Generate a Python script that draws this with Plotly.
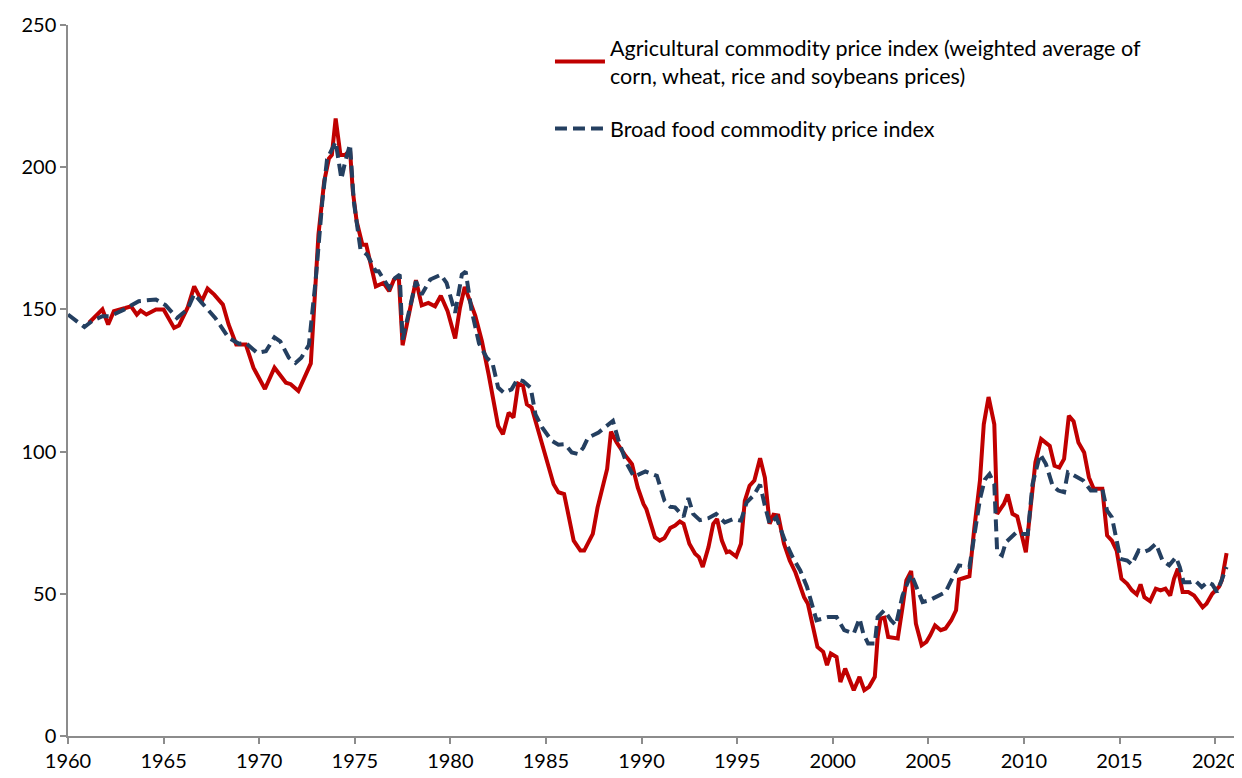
import plotly.graph_objects as go

# Agricultural commodity price index (weighted average of corn, wheat, rice, soybeans)
agri_year = [
    1961.1, 1961.8, 1962.1, 1962.4, 1963.0, 1963.3, 1963.6, 1963.8, 1964.1, 1964.6,
    1965.0, 1965.55, 1965.8, 1966.25, 1966.6, 1967.0, 1967.3, 1967.65, 1968.1, 1968.4,
    1968.8, 1969.3, 1969.7, 1970.3, 1970.8, 1971.4, 1971.65, 1972.05, 1972.7, 1973.1,
    1973.4, 1973.65, 1973.8, 1974.0, 1974.25, 1974.5, 1974.75, 1974.9, 1975.1, 1975.4,
    1975.6, 1975.8, 1976.1, 1976.5, 1976.8, 1977.05, 1977.3, 1977.5, 1977.8, 1978.2,
    1978.5, 1978.85, 1979.2, 1979.5, 1979.85, 1980.25, 1980.5, 1980.75, 1981.3, 1981.65,
    1982.0, 1982.5, 1982.75, 1983.05, 1983.3, 1983.55, 1983.8, 1984.0, 1984.25, 1984.8,
    1985.4, 1985.65, 1985.95, 1986.45, 1986.8, 1987.0, 1987.45, 1987.7, 1988.2, 1988.4,
    1988.7, 1989.1, 1989.5, 1989.8, 1990.1, 1990.25, 1990.7, 1990.95, 1991.2, 1991.5,
    1991.75, 1992.0, 1992.2, 1992.5, 1992.8, 1993.0, 1993.2, 1993.5, 1993.75, 1993.95,
    1994.2, 1994.45, 1994.6, 1994.95, 1995.2, 1995.4, 1995.65, 1995.9, 1996.2, 1996.45,
    1996.7, 1996.9, 1997.15, 1997.45, 1997.75, 1998.05, 1998.3, 1998.5, 1998.7, 1998.95,
    1999.2, 1999.5, 1999.7, 1999.9, 2000.2, 2000.4, 2000.65, 2001.1, 2001.4, 2001.65,
    2001.9, 2002.2, 2002.35, 2002.5, 2002.7, 2002.9, 2003.4, 2003.65, 2003.85, 2004.1,
    2004.35, 2004.65, 2004.9, 2005.1, 2005.35, 2005.65, 2005.9, 2006.2, 2006.45, 2006.6,
    2007.15, 2007.4, 2007.7, 2007.9, 2008.15, 2008.45, 2008.6, 2008.95, 2009.15, 2009.4,
    2009.65, 2010.1, 2010.35, 2010.6, 2010.9, 2011.35, 2011.6, 2011.85, 2012.1, 2012.35,
    2012.6, 2012.85, 2013.15, 2013.4, 2013.65, 2014.1, 2014.35, 2014.6, 2014.85, 2015.1,
    2015.4, 2015.65, 2015.9, 2016.1, 2016.3, 2016.6, 2016.9, 2017.15, 2017.4, 2017.65,
    2017.85, 2018.05, 2018.3, 2018.6, 2018.9, 2019.15, 2019.35, 2019.55, 2019.85, 2020.2,
    2020.35, 2020.6,
]
agri_value = [
    145.3, 150.0, 144.7, 149.4, 150.5, 151.1, 148.2, 149.6, 148.2, 150.0,
    150.0, 143.5, 144.3, 150.5, 158.1, 152.9, 157.3, 155.2, 151.7, 144.7,
    137.7, 137.7, 129.5, 122.0, 129.5, 124.2, 123.7, 121.3, 131.0, 176.3,
    195.0, 203.1, 204.3, 217.1, 204.3, 204.3, 206.0, 191.4, 180.9, 172.7,
    172.7, 166.9, 158.1, 159.3, 156.4, 160.5, 161.6, 137.4, 147.0, 160.3,
    151.4, 152.3, 151.1, 154.8, 149.5, 139.8, 150.5, 157.9, 147.8, 138.8,
    127.2, 109.0, 106.1, 113.7, 112.0, 123.9, 123.1, 116.6, 115.5, 102.0,
    88.5, 85.7, 85.1, 68.7, 65.2, 65.2, 71.1, 80.4, 93.9, 107.0,
    103.2, 99.1, 95.6, 87.4, 81.6, 79.8, 69.9, 68.7, 69.6, 73.1,
    74.0, 75.4, 74.6, 67.6, 64.1, 62.9, 59.4, 66.4, 74.6, 76.3,
    68.7, 64.6, 64.9, 63.1, 67.6, 82.7, 88.0, 89.8, 97.7, 90.9,
    74.6, 77.8, 77.5, 67.6, 61.7, 57.5, 52.4, 48.8, 46.5, 38.3,
    31.3, 29.6, 24.9, 29.0, 27.8, 19.0, 23.7, 16.1, 20.8, 16.1,
    17.3, 20.8, 34.8, 41.3, 41.6, 34.8, 34.3, 45.3, 54.7, 58.0,
    39.5, 31.9, 33.1, 35.4, 38.9, 37.2, 37.8, 40.7, 44.2, 55.0,
    56.2, 72.8, 89.8, 109.6, 119.2, 109.6, 78.1, 81.6, 84.9, 78.1,
    77.2, 64.6, 80.4, 96.2, 104.4, 102.0, 95.0, 94.4, 97.4, 112.6,
    110.6, 103.2, 99.7, 90.9, 86.9, 86.9, 70.5, 68.7, 65.2, 55.3,
    53.5, 51.2, 49.8, 53.3, 48.8, 47.4, 51.8, 51.2, 51.8, 49.4,
    55.3, 58.8, 50.6, 50.6, 49.4, 47.1, 45.3, 46.5, 50.0, 52.4,
    54.7, 64.3,
]

# Broad food commodity price index
food_year = [
    1960.0, 1960.86, 1961.3, 1961.8, 1962.2, 1962.95, 1963.7, 1964.6, 1965.1, 1965.7,
    1966.25, 1966.6, 1967.0, 1967.7, 1968.4, 1968.95, 1969.3, 1969.9, 1970.35, 1970.8,
    1971.1, 1971.55, 1971.9, 1972.2, 1972.6, 1972.95, 1973.3, 1973.55, 1974.0, 1974.3,
    1974.5, 1974.75, 1974.95, 1975.3, 1975.65, 1976.1, 1976.25, 1976.8, 1977.1, 1977.35,
    1977.5, 1978.2, 1978.5, 1978.95, 1979.5, 1979.8, 1980.25, 1980.6, 1980.8, 1981.1,
    1981.5, 1981.9, 1982.2, 1982.5, 1982.8, 1983.2, 1983.5, 1983.8, 1984.2, 1984.45,
    1984.8, 1985.3, 1985.65, 1986.0, 1986.35, 1986.7, 1986.95, 1987.2, 1987.75, 1988.5,
    1988.8, 1989.2, 1989.6, 1990.2, 1990.8, 1991.2, 1991.5, 1991.75, 1992.2, 1992.45,
    1992.7, 1993.05, 1993.5, 1993.9, 1994.35, 1994.8, 1995.2, 1995.5, 1995.85, 1996.2,
    1996.45, 1996.7, 1997.05, 1997.5, 1997.9, 1998.3, 1998.65, 1999.15, 1999.75, 2000.2,
    2000.6, 2001.1, 2001.4, 2001.6, 2001.85, 2002.2, 2002.35, 2002.7, 2003.05, 2003.3,
    2003.65, 2004.1, 2004.45, 2004.7, 2005.05, 2005.5, 2005.9, 2006.2, 2006.6, 2007.15,
    2007.4, 2007.7, 2007.95, 2008.2, 2008.45, 2008.6, 2008.85, 2009.05, 2009.6, 2009.95,
    2010.2, 2010.45, 2010.85, 2011.15, 2011.5, 2011.8, 2012.1, 2012.3, 2012.55, 2013.1,
    2013.5, 2013.85, 2014.1, 2014.35, 2014.6, 2014.85, 2015.05, 2015.4, 2015.65, 2016.0,
    2016.25, 2016.55, 2016.9, 2017.25, 2017.6, 2017.95, 2018.15, 2018.35, 2018.7, 2018.95,
    2019.3, 2019.6, 2019.85, 2020.1, 2020.35, 2020.6,
]
food_value = [
    148.2, 143.8, 146.1, 147.6, 147.6, 150.0, 152.9, 153.5, 151.5, 147.0,
    150.0, 155.4, 152.3, 147.0, 140.0, 137.9, 138.2, 134.7, 135.3, 140.2,
    138.8, 133.0, 131.2, 133.0, 137.5, 160.0, 187.9, 202.8, 209.0, 195.9,
    202.0, 208.0, 187.9, 171.0, 169.2, 163.4, 163.4, 157.5, 161.0, 162.2,
    139.4, 159.9, 155.2, 160.5, 162.2, 159.3, 148.8, 162.2, 163.3, 150.0,
    138.0, 133.0, 131.2, 122.5, 120.7, 121.9, 125.4, 124.8, 122.5, 113.1,
    108.5, 103.8, 102.4, 102.6, 99.7, 99.1, 101.4, 104.9, 106.7, 110.8,
    103.8, 96.2, 91.2, 93.0, 91.5, 82.7, 80.6, 80.4, 77.1, 83.7,
    78.1, 75.9, 76.6, 78.1, 75.1, 76.3, 75.7, 82.2, 84.5, 88.4,
    81.0, 74.6, 76.9, 68.7, 62.9, 58.2, 52.5, 40.7, 41.8, 41.8,
    37.2, 36.0, 41.3, 36.0, 32.5, 32.5, 41.8, 44.2, 40.7, 38.9,
    49.4, 57.0, 51.2, 47.1, 47.7, 49.4, 50.6, 54.7, 60.0, 59.4,
    71.0, 83.3, 90.1, 92.1, 88.6, 64.6, 63.5, 68.1, 71.6, 71.0,
    71.0, 88.6, 99.1, 95.6, 88.0, 86.3, 85.7, 92.7, 91.9, 89.8,
    86.3, 86.3, 86.9, 79.2, 76.9, 68.7, 62.3, 61.7, 60.3, 65.2,
    64.6, 65.5, 67.6, 61.7, 60.0, 62.9, 59.4, 54.1, 54.1, 54.7,
    52.4, 54.1, 53.3, 50.6, 55.3, 59.4,
]

x_ticks = [1960, 1965, 1970, 1975, 1980, 1985, 1990, 1995, 2000, 2005, 2010, 2015, 2020]
y_ticks = [0, 50, 100, 150, 200, 250]

FONT = "Lato, Carlito, 'Open Sans', sans-serif"

fig = go.Figure()
fig.add_trace(go.Scatter(
    x=agri_year, y=agri_value, mode="lines",
    name="Agricultural commodity price index (weighted average of<br>corn, wheat, rice and soybeans prices)",
    line=dict(color="#C00000", width=4),
    legendgroup="a",
))
fig.add_trace(go.Scatter(
    x=food_year, y=food_value, mode="lines",
    name="Broad food commodity price index",
    line=dict(color="#243F60", width=4, dash="12px,6px"),
    legendgroup="b",
))

axis_common = dict(
    showgrid=False, zeroline=False, showline=True,
    linecolor="#8c8c8c", linewidth=1.5,
    ticks="outside", ticklen=6, tickcolor="#8c8c8c", tickwidth=1.5,
    tickfont=dict(family=FONT, size=20, color="#000000"),
)

# page body has an 8px default margin, so the figure is sized to fit the window
fig.update_layout(
    width=1234, height=770,
    margin=dict(l=60, r=4, t=15, b=42),
    paper_bgcolor="white", plot_bgcolor="white",
    font=dict(family=FONT, size=20, color="#000000"),
    xaxis=dict(range=[1960, 2021.04], tickvals=x_ticks, ticktext=[str(v) for v in x_ticks], **axis_common),
    yaxis=dict(range=[0, 250], tickvals=y_ticks, **axis_common),
    legend=dict(
        x=0.413, y=0.997, xanchor="left", yanchor="top",
        bgcolor="rgba(0,0,0,0)", borderwidth=0,
        font=dict(family=FONT, size=21.5, color="#000000"),
        tracegroupgap=22, itemwidth=50,
    ),
    showlegend=True,
)

fig.write_html("out.html")
